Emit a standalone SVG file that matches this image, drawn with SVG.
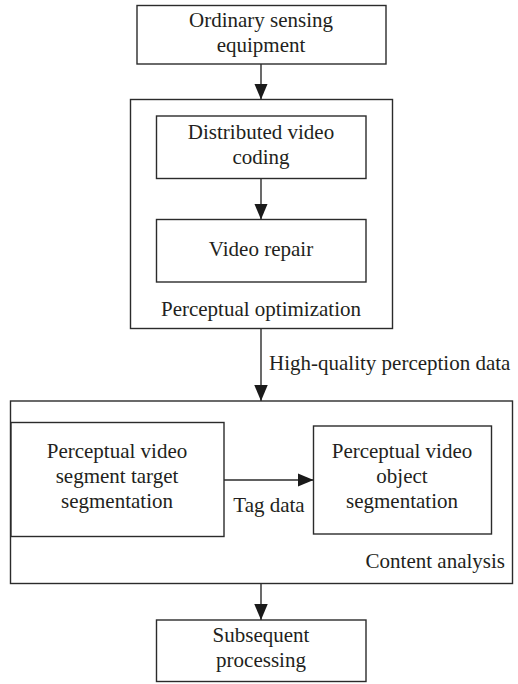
<svg xmlns="http://www.w3.org/2000/svg" width="518" height="684" viewBox="0 0 518 684">
<style>
.box{fill:#fff;stroke:#2b2b2b;stroke-width:1.4}
.line{stroke:#2b2b2b;stroke-width:1.4;fill:none}
text{font-family:"Liberation Serif","Times New Roman",serif;font-size:21px;fill:#231f20;text-anchor:middle}
</style>
<defs>
<marker id="ah" markerUnits="userSpaceOnUse" markerWidth="16" markerHeight="19" refX="19" refY="8" orient="auto" viewBox="0 0 19 16">
<path d="M0,0 L19,8 L0,16 Z" fill="#1a1a1a"/>
</marker>
</defs>
<rect width="518" height="684" fill="#fff"/>
<g id="perceptual-optimization">
<rect class="box" x="130.5" y="99.5" width="262" height="229"/>
<text x="261" y="316">Perceptual optimization</text>
</g>
<g id="content-analysis">
<rect class="box" x="10.5" y="401" width="502" height="182.5"/>
<text x="505" y="568" style="text-anchor:end">Content analysis</text>
</g>
<g id="ordinary-sensing">
<rect class="box" x="137" y="5.5" width="249" height="58.5"/>
<text x="261" y="27">Ordinary sensing</text>
<text x="261" y="52">equipment</text>
</g>
<g id="dvc">
<rect class="box" x="156.5" y="116" width="209.5" height="62.5"/>
<text x="261" y="139">Distributed video</text>
<text x="261" y="164">coding</text>
</g>
<g id="video-repair">
<rect class="box" x="156.5" y="219.5" width="209.5" height="62.5"/>
<text x="261" y="256">Video repair</text>
</g>
<g id="segment-target">
<rect class="box" x="11" y="422.5" width="213" height="114"/>
<text x="117" y="458">Perceptual video</text>
<text x="117" y="483">segment target</text>
<text x="117" y="508">segmentation</text>
</g>
<g id="object-segmentation">
<rect class="box" x="313.5" y="426" width="178" height="108"/>
<text x="402" y="458">Perceptual video</text>
<text x="402" y="483">object</text>
<text x="402" y="508">segmentation</text>
</g>
<g id="subsequent">
<rect class="box" x="156.5" y="620" width="209.5" height="61.5"/>
<text x="261" y="642">Subsequent</text>
<text x="261" y="667">processing</text>
</g>
<g id="connectors">
<line class="line" x1="261" y1="64" x2="261" y2="99.5" marker-end="url(#ah)"/>
<line class="line" x1="261" y1="178.5" x2="261" y2="219.5" marker-end="url(#ah)"/>
<line class="line" x1="261" y1="328.5" x2="261" y2="401" marker-end="url(#ah)"/>
<line class="line" x1="224" y1="480" x2="313.5" y2="480" marker-end="url(#ah)"/>
<line class="line" x1="261" y1="583.5" x2="261" y2="620" marker-end="url(#ah)"/>
<text x="269" y="370" style="text-anchor:start">High-quality perception data</text>
<text x="269" y="512">Tag data</text>
</g>
</svg>
